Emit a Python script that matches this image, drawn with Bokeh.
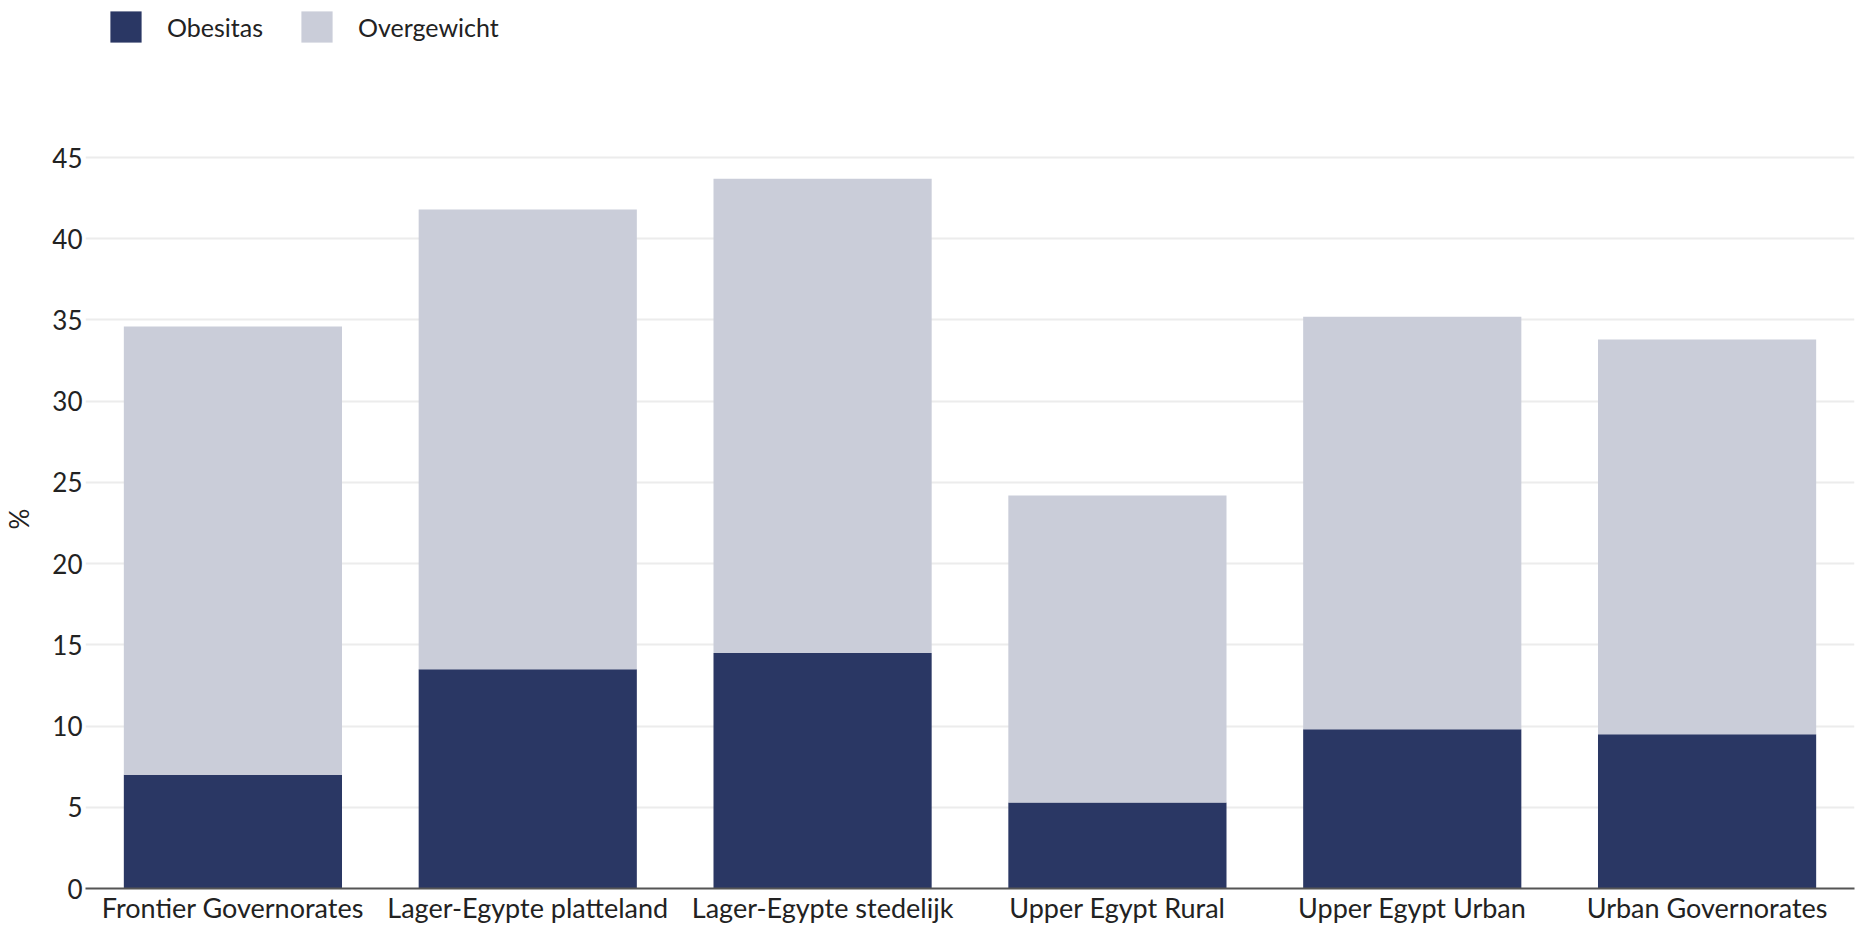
from bokeh.plotting import figure
from bokeh.models import ColumnDataSource, FactorRange, Range1d, Legend, LegendItem, FixedTicker, Title
from bokeh.embed import file_html
from bokeh.resources import INLINE

categories = ["Frontier Governorates", "Lager-Egypte platteland", "Lager-Egypte stedelijk",
              "Upper Egypt Rural", "Upper Egypt Urban", "Urban Governorates"]
obesitas = [7.0, 13.5, 14.5, 5.3, 9.8, 9.5]
overgewicht = [27.6, 28.3, 29.2, 18.9, 25.4, 24.3]
series = ["Obesitas", "Overgewicht"]
colors = ["#2a3764", "#cacdd9"]
y_ticks = [0, 5, 10, 15, 20, 25, 30, 35, 40, 45]
y_label = "%"

FONT = "Lato"
TEXT = "#222222"

FRAME_W, FRAME_H = 1769, 883

source = ColumnDataSource(data=dict(cat=categories, Obesitas=obesitas, Overgewicht=overgewicht))

p = figure(x_range=FactorRange(factors=categories, range_padding=0),
           y_range=Range1d(0, 54.36),
           frame_width=FRAME_W, frame_height=FRAME_H,
           min_border_left=85, min_border_top=5, min_border_right=3, min_border_bottom=0,
           output_backend="svg", toolbar_location=None)

renderers = p.vbar_stack(series, x="cat", width=0.74, source=source, color=colors, line_color=None)

p.outline_line_color = None
p.background_fill_color = "white"
p.border_fill_color = "white"

p.xgrid.grid_line_color = None
p.ygrid.grid_line_color = "#ececec"
p.ygrid.grid_line_width = 2

p.yaxis.ticker = FixedTicker(ticks=y_ticks)
p.yaxis.axis_line_color = None
p.yaxis.major_tick_line_color = None
p.yaxis.minor_tick_line_color = None
p.yaxis.major_tick_out = 0
p.yaxis.major_tick_in = 0
p.yaxis.major_label_standoff = 3
p.yaxis.major_label_text_font_size = "26px"
# spacer so the "%" title sits at the far left edge
p.yaxis.axis_label = " "
p.yaxis.axis_label_text_font_size = "1px"
p.yaxis.axis_label_standoff = 11

p.xaxis.axis_line_color = "#555555"
p.xaxis.axis_line_width = 2
p.xaxis.major_tick_line_color = None
p.xaxis.minor_tick_line_color = None
p.xaxis.major_tick_out = 0
p.xaxis.major_tick_in = 0
p.xaxis.major_label_standoff = 2
p.xaxis.major_label_text_font_size = "27px"

for ax in (p.xaxis[0], p.yaxis[0]):
    ax.major_label_text_font = FONT
    ax.major_label_text_color = TEXT

ytitle = Title(text=y_label, align="left", offset=359, standoff=0,
               text_font=FONT, text_font_size="26px", text_font_style="normal", text_color=TEXT)
p.add_layout(ytitle, "left")

legend = Legend(items=[LegendItem(label=s, renderers=[r]) for s, r in zip(series, renderers)],
                orientation="horizontal", location=(21, FRAME_H - 2 - 39),
                glyph_width=39, glyph_height=39, label_standoff=22, spacing=34,
                padding=0, margin=0, border_line_color=None, background_fill_alpha=0,
                label_text_font=FONT, label_text_font_size="25px", label_text_color=TEXT)
p.add_layout(legend, "center")

open("out.html", "w").write(file_html(p, INLINE))
